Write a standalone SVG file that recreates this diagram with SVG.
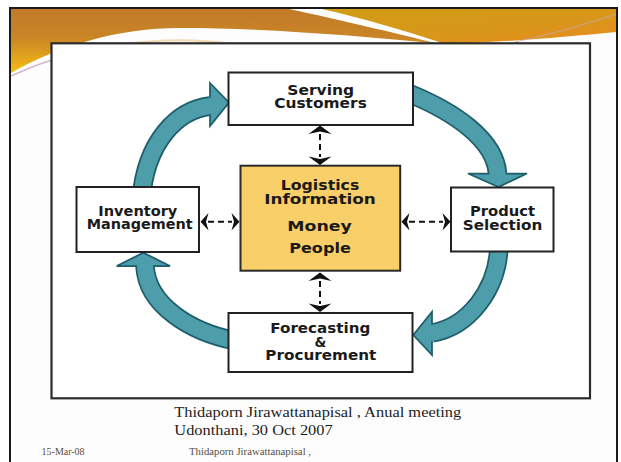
<svg xmlns="http://www.w3.org/2000/svg" width="621" height="462" viewBox="0 0 621 462">
<defs>
<linearGradient id="gL" x1="0" y1="0" x2="0" y2="1">
<stop offset="0" stop-color="#c27a2a"/>
<stop offset="0.45" stop-color="#c98526"/>
<stop offset="1" stop-color="#f5be12"/>
</linearGradient>
<linearGradient id="gR" x1="0" y1="0" x2="1" y2="1">
<stop offset="0" stop-color="#d19c16"/>
<stop offset="0.6" stop-color="#d8961a"/>
<stop offset="1" stop-color="#ee8a20"/>
</linearGradient>
<style>
.box{fill:#fff;stroke:#222;stroke-width:2}
.core{fill:#f8cf68;stroke:#2a2a2a;stroke-width:2}
.lbl{font-family:"DejaVu Sans",Verdana,sans-serif;font-weight:bold;font-size:13.5px;fill:#1a1a1a;text-anchor:middle}
.bo{fill:none;stroke:#1d5e6a;stroke-width:19.5}
.bi{fill:none;stroke:#4e9dab;stroke-width:16}
.head{fill:#4e9dab;stroke:#1d5e6a;stroke-width:1.75;stroke-linejoin:miter}
.dash{stroke:#111;stroke-width:2;stroke-dasharray:6 4;fill:none}
.ah{fill:#111}
.foot{font-family:"Liberation Serif","Times New Roman",serif}
</style>
</defs>
<rect x="0" y="0" width="621" height="462" fill="#ffffff"/>
<g id="slide">
<rect x="10" y="8" width="607" height="470" fill="#fdfdfd" stroke="#1a1a1a" stroke-width="2"/>
<path d="M11,9 H289 C340,20 395,33 437,43.5 C350,35 260,28 180,28 C118,28 58,46 11,73 Z" fill="url(#gL)"/>
<path d="M322,9 H616 V32 C565,37 505,42 446,44 C405,31 362,18 322,9 Z" fill="url(#gR)"/>
<path d="M11,76 C25,70 38,64 52,60" fill="none" stroke="#c8a2c4" stroke-width="1.5" opacity="0.8"/>
<path d="M515,42 Q570,30 616,14" fill="none" stroke="#bfa9b6" stroke-width="1.2" opacity="0.7"/>
<path d="M118,45 Q178,36 232,44" fill="none" stroke="#efcf9f" stroke-width="2" opacity="0.8"/>
<rect x="51.5" y="43.3" width="538.5" height="355" fill="#ffffff" stroke="#2b2b2b" stroke-width="2.2"/>
</g>
<g id="connectors">
<path class="bo" d="M141,200 C146,140 178,110 210,106"/>
<path class="bo" d="M408,93 C455,112 495,140 497.5,173.5"/>
<path class="bo" d="M499,245 C498,290 468,327 432,333"/>
<path class="bo" d="M236,341 C190,332 147,305 145,266"/>
<polygon class="head" points="210,83 229,102.5 210,126"/>
<polygon class="head" points="468,173.5 527,173.5 498.5,187"/>
<polygon class="head" points="432,311.7 413.3,335 432,355"/>
<polygon class="head" points="116.7,266 170,266 143.3,252.7"/>
<path class="bi" d="M141,200 C146,140 178,110 210,106 L212,105.75"/>
<path class="bi" d="M408,93 C455,112 495,140 497.5,173.5 L497.6,175.5"/>
<path class="bi" d="M499,245 C498,290 468,327 432,333 L430,333.3"/>
<path class="bi" d="M236,341 C190,332 147,305 145,266 L144.9,264"/>
<line class="dash" x1="320" y1="134" x2="320" y2="157"/>
<polygon class="ah" points="320,125.5 331.5,134 320,131.5 308.5,134"/>
<polygon class="ah" points="320,165 331.5,156.5 320,159 308.5,156.5"/>
<line class="dash" x1="320" y1="281" x2="320" y2="304"/>
<polygon class="ah" points="320,272.5 331.5,281 320,278.5 308.5,281"/>
<polygon class="ah" points="320,312 331.5,303.5 320,306 308.5,303.5"/>
<line class="dash" x1="208" y1="221.7" x2="232" y2="221.7"/>
<polygon class="ah" points="200.5,221.7 208.5,213 206,221.7 208.5,230.4"/>
<polygon class="ah" points="239.5,221.7 231.5,213 234,221.7 231.5,230.4"/>
<line class="dash" x1="409" y1="221.7" x2="443" y2="221.7"/>
<polygon class="ah" points="401.5,221.7 409.5,213 407,221.7 409.5,230.4"/>
<polygon class="ah" points="450.5,221.7 442.5,213 445,221.7 442.5,230.4"/>
</g>
<g id="serving">
<rect class="box" x="228.5" y="72.5" width="184.5" height="52.5"/>
<text class="lbl" x="320.7" y="94.5" textLength="66.7" lengthAdjust="spacingAndGlyphs">Serving</text>
<text class="lbl" x="320.5" y="107.8" textLength="92.7" lengthAdjust="spacingAndGlyphs">Customers</text>
</g>
<g id="core">
<rect class="core" x="240.5" y="165.7" width="159.7" height="105"/>
<text class="lbl" x="320" y="189.6" textLength="78.7" lengthAdjust="spacingAndGlyphs">Logistics</text>
<text class="lbl" x="320" y="203.5" textLength="111.7" lengthAdjust="spacingAndGlyphs">Information</text>
<text class="lbl" x="319.5" y="230.7" textLength="64.5" lengthAdjust="spacingAndGlyphs">Money</text>
<text class="lbl" x="320" y="253" textLength="61.7" lengthAdjust="spacingAndGlyphs">People</text>
</g>
<g id="inventory">
<rect class="box" x="76.5" y="187" width="122.5" height="65"/>
<text class="lbl" x="137.8" y="215.5" textLength="79" lengthAdjust="spacingAndGlyphs">Inventory</text>
<text class="lbl" x="139.7" y="228.5" textLength="106" lengthAdjust="spacingAndGlyphs">Management</text>
</g>
<g id="product">
<rect class="box" x="451" y="187.5" width="102.5" height="64"/>
<text class="lbl" x="502.5" y="216" textLength="65" lengthAdjust="spacingAndGlyphs">Product</text>
<text class="lbl" x="502.5" y="229.5" textLength="79.6" lengthAdjust="spacingAndGlyphs">Selection</text>
</g>
<g id="forecasting">
<rect class="box" x="228.5" y="313" width="184" height="59"/>
<text class="lbl" x="320.3" y="333" textLength="100" lengthAdjust="spacingAndGlyphs">Forecasting</text>
<text class="lbl" x="320.5" y="346.7">&amp;</text>
<text class="lbl" x="320.8" y="360.3" textLength="111" lengthAdjust="spacingAndGlyphs">Procurement</text>
</g>
<g id="footer">
<text class="foot" x="174.3" y="416.5" font-size="15.5" fill="#1e1e1e" textLength="287" lengthAdjust="spacingAndGlyphs">Thidaporn Jirawattanapisal , Anual meeting</text>
<text class="foot" x="174.3" y="435" font-size="15.5" fill="#1e1e1e" textLength="158.4" lengthAdjust="spacingAndGlyphs">Udonthani, 30 Oct 2007</text>
<text class="foot" x="41.6" y="455" font-size="10" fill="#555044" textLength="43" lengthAdjust="spacingAndGlyphs">15-Mar-08</text>
<text class="foot" x="189" y="455" font-size="10" fill="#555044" textLength="122" lengthAdjust="spacingAndGlyphs">Thidaporn Jirawattanapisal ,</text>
</g>
</svg>
